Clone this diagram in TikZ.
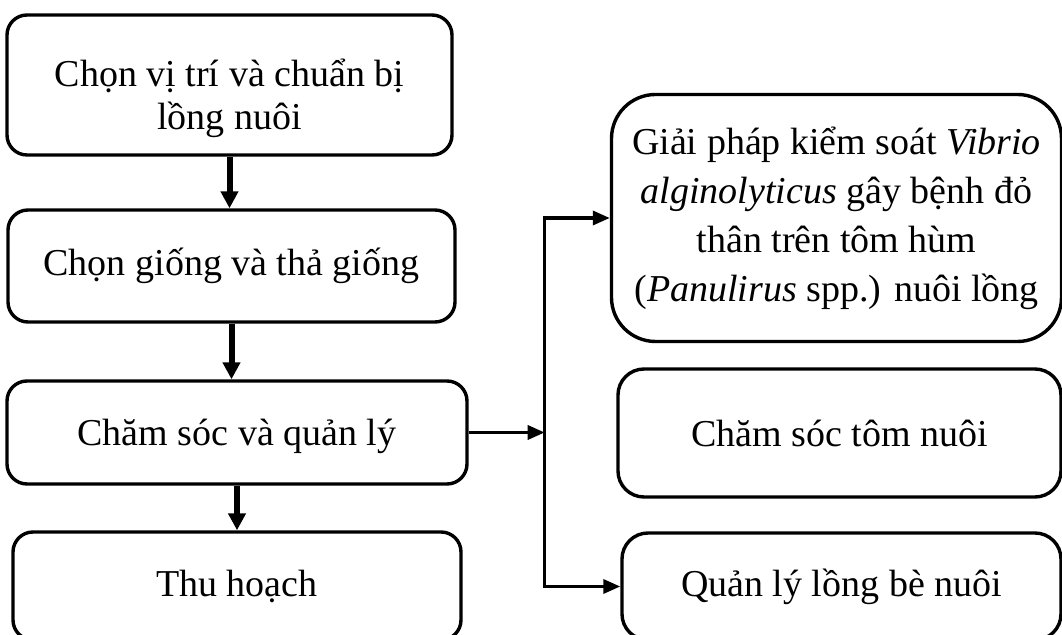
\documentclass[tikz,border=0pt]{standalone}
\usepackage{fontspec}
\setmainfont{Liberation Serif}
\usetikzlibrary{arrows.meta,calc}
\tikzset{
  stepbox/.style={draw,line width=1.7pt,rounded corners=10pt,align=center,inner sep=0pt,
    font=\fontsize{19}{21.5}\selectfont},
  vlink/.style={line width=3pt,-{Triangle[length=8.5pt,width=8.5pt]}},
  hlink/.style={line width=1.7pt,-{Triangle[length=8.5pt,width=7pt]}}
}

\begin{document}
\begin{tikzpicture}[x=0.5pt,y=-0.5pt]
\useasboundingbox (0,0) rectangle (1062,635);

\node[stepbox,minimum width=222.5pt,minimum height=70pt] (b1) at (229.5,85) {\rule{0pt}{27pt}Chọn vị trí và chuẩn bị\\lồng nuôi};
\node[stepbox,minimum width=223.5pt,minimum height=56pt] (b2) at (231.5,266) {Chọn giống và thả giống};
\node[stepbox,minimum width=230pt,minimum height=51.5pt,text depth=0pt] (b3) at (237,432.5) {Chăm sóc và quản lý};
\node[stepbox,minimum width=224pt,minimum height=54pt] (b4) at (237,586) {Thu hoạch};

\node[stepbox,rounded corners=22pt,minimum width=225pt,minimum height=123.5pt,
  font=\fontsize{19}{24.5}\selectfont] (r1) at (836.5,218)
  {Giải pháp kiểm soát \textit{Vibrio}\\\textit{alginolyticus} gây bệnh đỏ\\thân trên tôm hùm\\(\textit{Panulirus} spp.) nuôi lồng};
\node[stepbox,rounded corners=13pt,minimum width=221.5pt,minimum height=64pt] (r2) at (839.5,433) {Chăm sóc tôm nuôi};
\node[stepbox,rounded corners=13pt,minimum width=219.5pt,minimum height=53.5pt] (r3) at (841.5,586.5) {Quản lý lồng bè nuôi};

\draw[vlink] (b1.south) -- (b1.south |- b2.north);
\draw[vlink] (b2.south) -- (b2.south |- b3.north);
\draw[vlink] (b3.south) -- (b3.south |- b4.north);

\path (b3.east) ++(76,0) coordinate (split);
\draw[hlink] (b3.east) -- (split);
\draw[hlink] (split) |- (r1.west);
\draw[hlink] (split) |- (r3.west);

\end{tikzpicture}
\end{document}
